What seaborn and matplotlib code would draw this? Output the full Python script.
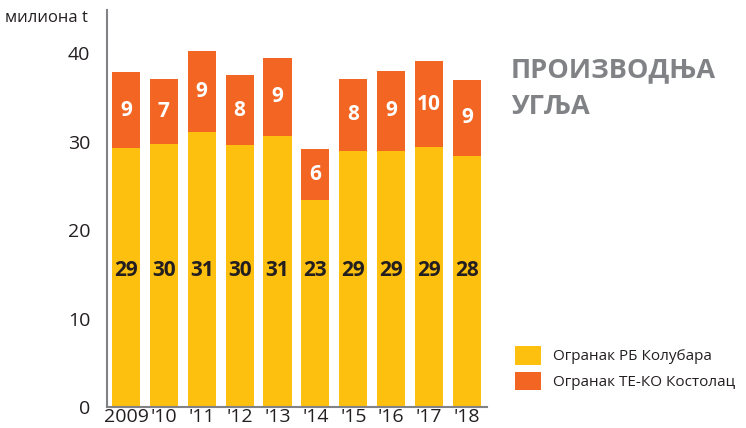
import pandas as pd
import numpy as np
import matplotlib
matplotlib.use("Agg")
import matplotlib.pyplot as plt
import seaborn as sns
from matplotlib.patches import Patch

# podaci (milioni tona)
years = ["2009", "'10", "'11", "'12", "'13", "'14", "'15", "'16", "'17", "'18"]
kolubara = [29.3, 29.7, 31.1, 29.6, 30.7, 23.4, 29.0, 29.0, 29.4, 28.4]
kostolac = [8.55, 7.45, 9.2, 7.9, 8.8, 5.8, 8.1, 9.0, 9.7, 8.6]
kolubara_labels = [29, 30, 31, 30, 31, 23, 29, 29, 29, 28]
kostolac_labels = [9, 7, 9, 8, 9, 6, 8, 9, 10, 9]

YELLOW = "#FEC00F"
ORANGE = "#F26522"
GREY = "#808285"
DARK = "#231F20"

sns.set_style("white")
plt.rcParams["font.family"] = ["Open Sans", "DejaVu Sans"]

df = pd.DataFrame({"year": years, "kolubara": kolubara, "kostolac": kostolac})
df["total"] = df["kolubara"] + df["kostolac"]

fig = plt.figure(figsize=(7.46, 4.28), dpi=100)
ax = fig.add_axes([107 / 746, 21 / 428, 380 / 746, 397 / 428])

sns.barplot(data=df, x="year", y="total", color=ORANGE, width=0.74,
            saturation=1, linewidth=0, ax=ax)
sns.barplot(data=df, x="year", y="kolubara", color=YELLOW, width=0.74,
            saturation=1, linewidth=0, ax=ax)

# brojke u žutom delu stoje na istoj visini
label_y = 15.4
for i in range(len(years)):
    ax.text(i, label_y, str(kolubara_labels[i]), ha="center", va="center",
            fontsize=15, fontweight="bold", color=DARK)
    ax.text(i, kolubara[i] + kostolac[i] / 2, str(kostolac_labels[i]),
            ha="center", va="center", fontsize=15, fontweight="bold", color="white")

ax.set_xlim(-0.47, 9.53)
ax.set_ylim(0, 44.9)
ax.set_xlabel("")
ax.set_ylabel("")
ax.set_yticks([0, 10, 20, 30, 40])
ax.tick_params(axis="y", direction="in", length=9, width=1.2, color=GREY,
               labelsize=14, labelcolor=DARK, pad=12)
ax.tick_params(axis="x", length=0, labelsize=14, labelcolor=DARK, pad=1)
ax.set_xticks(np.arange(-0.5, 10, 1), minor=True)
ax.tick_params(axis="x", which="minor", direction="in", length=6, width=1.2,
               color=GREY)

for s in ["top", "right"]:
    ax.spines[s].set_visible(False)
for s in ["left", "bottom"]:
    ax.spines[s].set_color(GREY)
    ax.spines[s].set_linewidth(1.5)

fig.text(5 / 746, 1 - 18 / 428, "милиона t", fontsize=12, color=DARK,
         va="center", ha="left")
fig.text(511 / 746, 1 - 70 / 428, "ПРОИЗВОДЊА", fontsize=19.5, fontweight="bold",
         color=GREY, va="center", ha="left")
fig.text(511 / 746, 1 - 107 / 428, "УГЉА", fontsize=19.5, fontweight="bold",
         color=GREY, va="center", ha="left")

handles = [Patch(facecolor=YELLOW, edgecolor="none"),
           Patch(facecolor=ORANGE, edgecolor="none")]
fig.legend(handles, ["Огранак РБ Колубара", "Огранак ТЕ-КО Костолац"],
           loc="upper left", bbox_to_anchor=(509 / 746, 1 - 340 / 428),
           frameon=False, fontsize=11, handlelength=1.7, handleheight=1.5,
           handletextpad=0.8, labelspacing=0.45, borderaxespad=0,
           labelcolor=DARK)

fig.savefig("out.png", dpi=100)
